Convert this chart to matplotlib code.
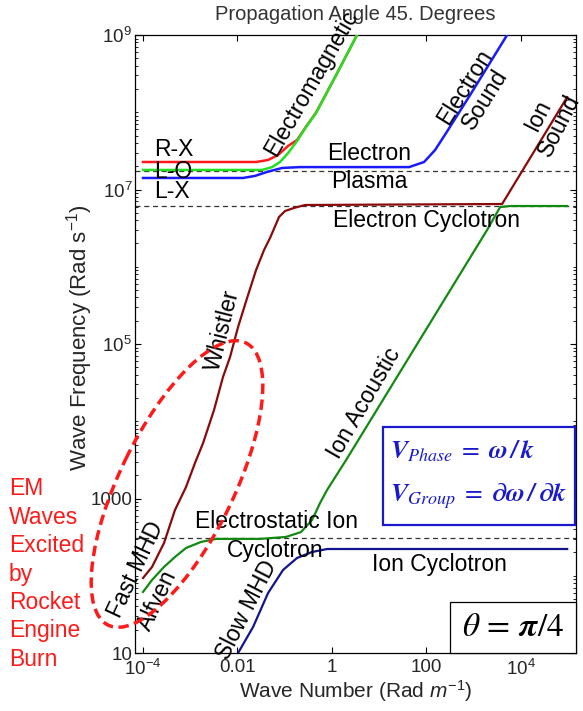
import matplotlib

matplotlib.use("Agg")
import matplotlib.pyplot as plt
import numpy as np
from matplotlib.patches import Ellipse, Rectangle
from matplotlib.ticker import LogLocator, NullFormatter, NullLocator
from matplotlib.transforms import Affine2D

plt.rcParams["font.family"] = ["Liberation Sans", "DejaVu Sans"]
plt.rcParams["mathtext.fontset"] = "custom"
plt.rcParams["mathtext.rm"] = "Liberation Sans"
plt.rcParams["mathtext.it"] = "Liberation Sans:italic"
plt.rcParams["mathtext.bf"] = "Liberation Sans:bold"

# dispersion branches: wave number k (rad/m), frequency w (rad/s)
rx_k = np.array([1e-4, 0.0248, 0.0445, 0.0724, 0.118, 0.183, 0.284, 0.462, 1.17, 3.41, 6.44])
rx_w = np.array([2.27e7, 2.27e7, 2.41e7, 2.80e7, 3.66e7, 4.37e7, 6.53e7, 9.89e7, 2.86e8, 1e9, 1.86e9])

lo_k = np.array([1e-4, 0.0332, 0.0541, 0.0798, 0.118, 0.183, 0.284, 0.462, 1.17, 3.41, 6.44])
lo_w = np.array([1.79e7, 1.79e7, 1.95e7, 2.27e7, 2.96e7, 4.25e7, 6.44e7, 9.77e7, 2.86e8, 1e9, 1.86e9])

lx_k = np.array([1e-4, 0.0131, 0.0236, 0.0424, 0.0879, 0.212, 43.2, 89.7, 153, 262, 845, 5140, 9700])
lx_w = np.array([1.41e7, 1.41e7, 1.50e7, 1.69e7, 1.90e7, 1.95e7, 1.95e7, 2.27e7, 3.24e7,
                 5.38e7, 1.67e8, 1e9, 1.86e9])

whistler_k = np.array([1e-4, 1.55e-4, 2.78e-4, 4.75e-4, 8.15e-4, 1.26e-3, 1.87e-3, 3.19e-3,
                       4.94e-3, 6.97e-3, 0.0103, 0.0160, 0.0248, 0.0366, 0.0490, 0.0760,
                       0.102, 0.158, 0.270, 4030, 9.62e4])
whistler_w = np.array([93.5, 130, 265, 710, 1410, 2880, 5220, 1.40e4, 3.74e4, 6.79e4, 1.66e5,
                       3.94e5, 9.08e5, 1.65e6, 2.36e6, 4.41e6, 5.27e6, 5.77e6, 6.30e6, 6.49e6,
                       1.57e8])

alfven_k = np.array([1e-4, 1.55e-4, 2.78e-4, 4.75e-4, 8.15e-4, 1.69e-3, 3.52e-3, 0.0301,
                     0.107, 0.222, 0.380, 0.562, 0.791, 2.0, 1940, 3660, 5960, 9.62e4])
alfven_w = np.array([61.7, 88.1, 130, 175, 229, 274, 300, 300, 318, 368, 527, 875, 1290,
                     3150, 3.0e6, 5.93e6, 6.11e6, 6.11e6])

slow_k = np.array([9.33e-3, 0.0103, 0.0214, 0.0445, 0.0925, 0.183, 0.380, 0.791, 9.62e4])
slow_w = np.array([7.64, 10, 21.7, 59.8, 119, 170, 203, 222, 222])

# resonance / cutoff levels (dashed)
levels_w = [1.75e7, 6.11e6, 308]

xtick_vals = [1e-4, 1e-2, 1, 1e2, 1e4]
xtick_labels = [r"$10^{-4}$", "0.01", "1", "100", r"$10^{4}$"]
ytick_vals = [10, 1e3, 1e5, 1e7, 1e9]
ytick_labels = ["10", "1000", r"$10^{5}$", r"$10^{7}$", r"$10^{9}$"]

W, H = 583, 711
fig = plt.figure(figsize=(W / 100, H / 100), dpi=100)
ax = fig.add_axes([135 / W, 1 - 653 / H, (576 - 135) / W, (653 - 35) / H])
# pixel coordinates of the picture (origin top-left) for annotations
px = Affine2D().scale(1 / 100, -1 / 100).translate(0, H / 100) + fig.dpi_scale_trans

ax.set_xscale("log")
ax.set_yscale("log")
ax.set_xlim(10 ** -4.17, 10 ** 5.17)
ax.set_ylim(10, 1e9)

for lev in levels_w:
    ax.axhline(lev, color="#333333", lw=0.9, ls=(0, (4, 3)), zorder=1)

ax.plot(slow_k, slow_w, color="#14148c", lw=1.6, zorder=2)
ax.plot(alfven_k, alfven_w, color="#128a12", lw=1.6, zorder=2)
ax.plot(whistler_k, whistler_w, color="#8a0a0a", lw=1.6, zorder=2)
ax.plot(lx_k, lx_w, color="#1a1aff", lw=1.8, zorder=3)
ax.plot(rx_k, rx_w, color="#ff1a1a", lw=1.8, zorder=3)
ax.plot(lo_k, lo_w, color="#22e022", lw=1.8, zorder=4)

ax.set_xticks(xtick_vals)
ax.set_xticklabels(xtick_labels)
ax.xaxis.set_minor_locator(NullLocator())
ax.set_yticks(ytick_vals)
ax.set_yticklabels(ytick_labels)
ax.yaxis.set_minor_locator(LogLocator(base=10, subs=np.arange(1, 10), numticks=50))
ax.yaxis.set_minor_formatter(NullFormatter())
ax.tick_params(which="both", direction="in", top=True, right=True)
ax.tick_params(which="major", length=4, width=0.8, labelsize=13.5, labelcolor="#262626")
ax.tick_params(axis="x", which="major", pad=4)
ax.tick_params(axis="y", which="major", pad=2)
ax.tick_params(which="minor", length=2, width=0.6)
for sp in ax.spines.values():
    sp.set_linewidth(0.9)

fig.text(355, 15, "Propagation Angle 45. Degrees", transform=px, fontsize=14.5,
         color="#333333", ha="center", va="center")
ax.set_xlabel("Wave Number (Rad $m^{-1}$)", fontsize=15, color="#262626")
ax.xaxis.set_label_coords(0.5, -(691 - 653) / 618)
ax.xaxis.label.set_va("center")
ax.set_ylabel("Wave Frequency (Rad s$^{-1}$)", fontsize=16, color="#262626")
ax.yaxis.set_label_coords(-(135 - 80) / 441, 0.5 + 6 / 618)
ax.yaxis.label.set_va("center")

labels = [
    ("R-X", 154, 150, 0, "left"),
    ("L-O", 154, 171, 0, "left"),
    ("L-X", 154, 192, 0, "left"),
    ("Electromagnetic", 311, 83, 60, "center"),
    ("Electron", 327, 153, 0, "left"),
    ("Plasma", 331, 182, 0, "left"),
    ("Electron\nSound", 475, 93, 58, "center"),
    ("Ion\nSound", 549, 120, 63, "center"),
    ("Electron Cyclotron", 333, 220, 0, "left"),
    ("Whistler", 223, 330, 76, "center"),
    ("Ion Acoustic", 364, 403, 60, "center"),
    ("Electrostatic Ion", 195, 522, 0, "left"),
    ("Cyclotron", 227, 550, 0, "left"),
    ("Ion Cyclotron", 372, 565, 0, "left"),
    ("Fast MHD", 136, 570, 65, "center"),
    ("Alfven", 158, 600, 65, "center"),
    ("Slow MHD", 247, 610, 63, "center"),
]
for s, x, y, rot, ha in labels:
    fig.text(x, y, s, transform=px, fontsize=16.5, rotation=rot, ha=ha, va="center",
             multialignment="center", linespacing=1.0, zorder=6)

fig.text(9, 574, "EM\nWaves\nExcited\nby\nRocket\nEngine\nBurn", transform=px,
         fontsize=16.5, color="#ff1a1a", ha="left", va="center", linespacing=1.30)

ring = Ellipse((177, 484), width=314, height=114, angle=-64, transform=px, fill=False,
               edgecolor="#ff1a1a", lw=2.5, ls=(0, (3, 1.6)), clip_on=False, zorder=7)
fig.add_artist(ring)

vbox = Rectangle((383, 427), 192, 98, transform=px, fill=True, facecolor="white",
                 edgecolor="#1a1acc", lw=1.6, zorder=5)
fig.add_artist(vbox)
fig.text(390, 451, r"$\mathbfit{V}_{\mathit{Phase}}\;=\;\mathbfit{\omega\,/\,k}$", transform=px,
         fontsize=18.5, color="#1a1acc", ha="left", va="center", math_fontfamily="stix",
         zorder=6)
fig.text(390, 496, r"$\mathbfit{V}_{\mathit{Group}}\;=\;\mathbfit{\partial\omega\,/\,\partial k}$",
         transform=px, fontsize=18.5, color="#1a1acc", ha="left", va="center",
         math_fontfamily="stix", zorder=6)

tbox = Rectangle((450, 602), 126, 51, transform=px, fill=True, facecolor="white",
                 edgecolor="black", lw=0.9, zorder=5)
fig.add_artist(tbox)
fig.text(513, 628, r"$\theta\,=\,\mathbfit{\pi}/4$", transform=px, fontsize=24, ha="center",
         va="center", math_fontfamily="stix", zorder=6)

fig.savefig("out.png", dpi=100)
